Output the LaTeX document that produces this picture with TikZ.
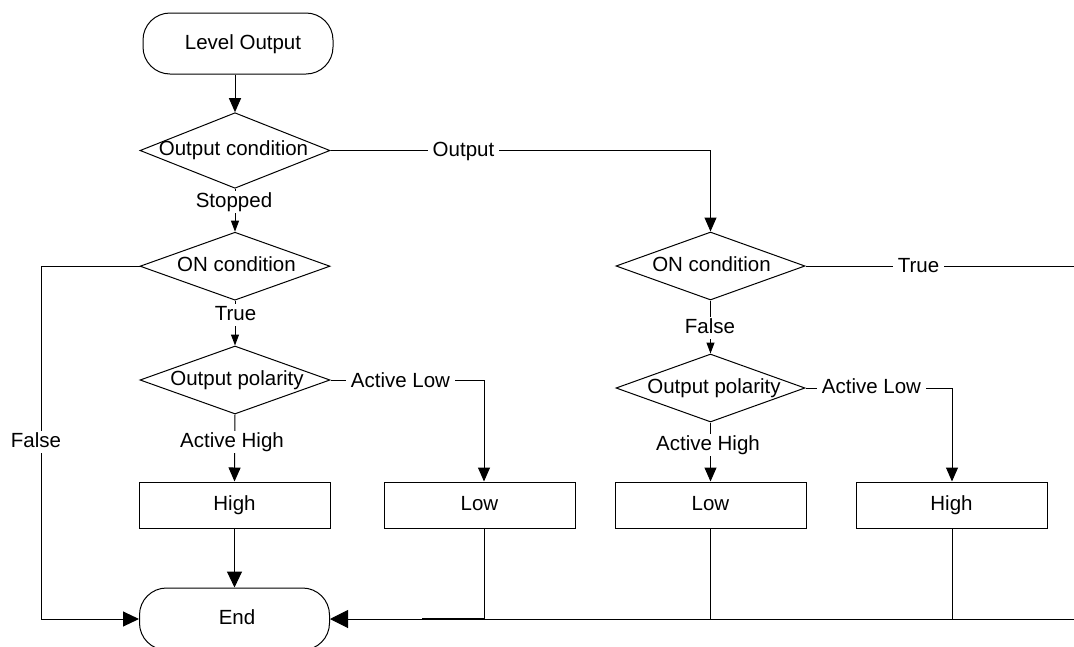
\documentclass[tikz,border=0pt]{standalone}
\usepackage{fontspec}
\setmainfont{Liberation Sans}
\usetikzlibrary{shapes.geometric,arrows.meta}
\begin{document}
\begin{tikzpicture}[x=1pt,y=-1pt,line width=1pt,
  font=\fontsize{20.5}{24}\selectfont,
  term/.style={draw,rectangle,rounded corners=27pt,minimum width=190pt,minimum height=61pt,inner sep=0pt},
  dia/.style={draw,diamond,inner sep=0pt,minimum width=190pt,minimum height=68pt},
  procbox/.style={draw,rectangle,minimum width=191pt,minimum height=46pt,inner sep=0pt,text height=14pt,text depth=4pt},
  txt/.style={inner sep=0pt,text height=14pt,text depth=4pt},
  lbl/.style={fill=white,inner xsep=5pt,inner ysep=2pt,text height=14pt,text depth=4pt},
  arrb/.style={-{Triangle[length=14pt,width=12pt]}},
  arrs/.style={-{Triangle[length=11pt,width=8pt]}},
  endl/.style={-{Triangle[length=16pt,width=15pt]}},
  endr/.style={-{Triangle[length=18pt,width=18pt]}}]
\useasboundingbox (0,0) rectangle (1074,646);
\clip (0,0) rectangle (1074,646);
% shapes
\node[term] (start) at (238,43.5) {};
\node[txt] (startt) at (243,44) {Level Output};
\node[dia,minimum height=75.6pt] (d1) at (235,150.5) {};
\node[txt] (d1t) at (233.5,150.5) {Output condition};
\node[dia] (d2) at (235,266.2) {};
\node[txt] (d2t) at (236.5,266.5) {ON condition};
\node[dia] (d3) at (235,380) {};
\node[txt] (d3t) at (237,380) {Output polarity};
\node[procbox] (hA) at (234.5,505) {High};
\node[procbox] (lA) at (479.5,505) {Low};
\node[term,minimum height=62pt] (end) at (234.5,619) {};
\node[txt] (endt) at (237,619) {End};
\node[dia,minimum width=189pt] (d4) at (710.5,266) {};
\node[txt] (d4t) at (711.5,266.5) {ON condition};
\node[dia,minimum width=189pt] (d5) at (710.5,388) {};
\node[txt] (d5t) at (714,388) {Output polarity};
\node[procbox] (lB) at (710.5,505) {Low};
\node[procbox] (hB) at (951.5,505) {High};
% helper coordinates
\coordinate (xL) at (41.7,0);
\coordinate (xA) at (484,0);
\coordinate (xB) at (952,0);
\coordinate (xR) at (1090,0);
\coordinate (thk) at (422,619);
% connectors
\draw[arrb] (start.south -| d1.north) -- (d1.north);
\draw[arrs] (d1.south) -- (d2.north);
\draw[arrb] (d1.east) -| (d4.north);
\draw[arrs] (d2.south) -- (d3.north);
\draw[endl] (d2.west) -- (d2.west -| xL) |- (end.west);
\draw[arrb] (d3.south) -- (hA.north);
\draw[arrb] (d3.east) -| (lA.north -| xA);
\draw[endl] (hA.south) -- (end.north);
\draw (lA.south -| xA) -- (xA |- end.east);
\draw[line width=2pt] (thk) -- (xA |- end.east);
\draw[arrs] (d4.south) -- (d5.north);
\draw[arrb] (d5.south) -- (lB.north);
\draw[arrb] (d5.east) -| (hB.north -| xB);
\draw[endr] (d4.east) -- (d4.east -| xR) |- (end.east);
\draw (lB.south) -- (lB.south |- end.east);
\draw (hB.south -| xB) -- (xB |- end.east);
% labels
\node[lbl] (lOut) at (463.5,151) {Output};
\node[lbl] (lStop) at (234,202) {Stopped};
\node[lbl] (lTrueA) at (235.5,315) {True};
\node[lbl] (lFalseA) at (36,442) {False};
\node[lbl] (lAHA) at (232,442) {Active High};
\node[lbl] (lALA) at (400.5,382) {Active Low};
\node[lbl] (lTrueB) at (918.5,267) {True};
\node[lbl] (lFalseB) at (710,328) {False};
\node[lbl] (lAHB) at (708,445) {Active High};
\node[lbl] (lALB) at (871.5,388) {Active Low};
\end{tikzpicture}
\end{document}
